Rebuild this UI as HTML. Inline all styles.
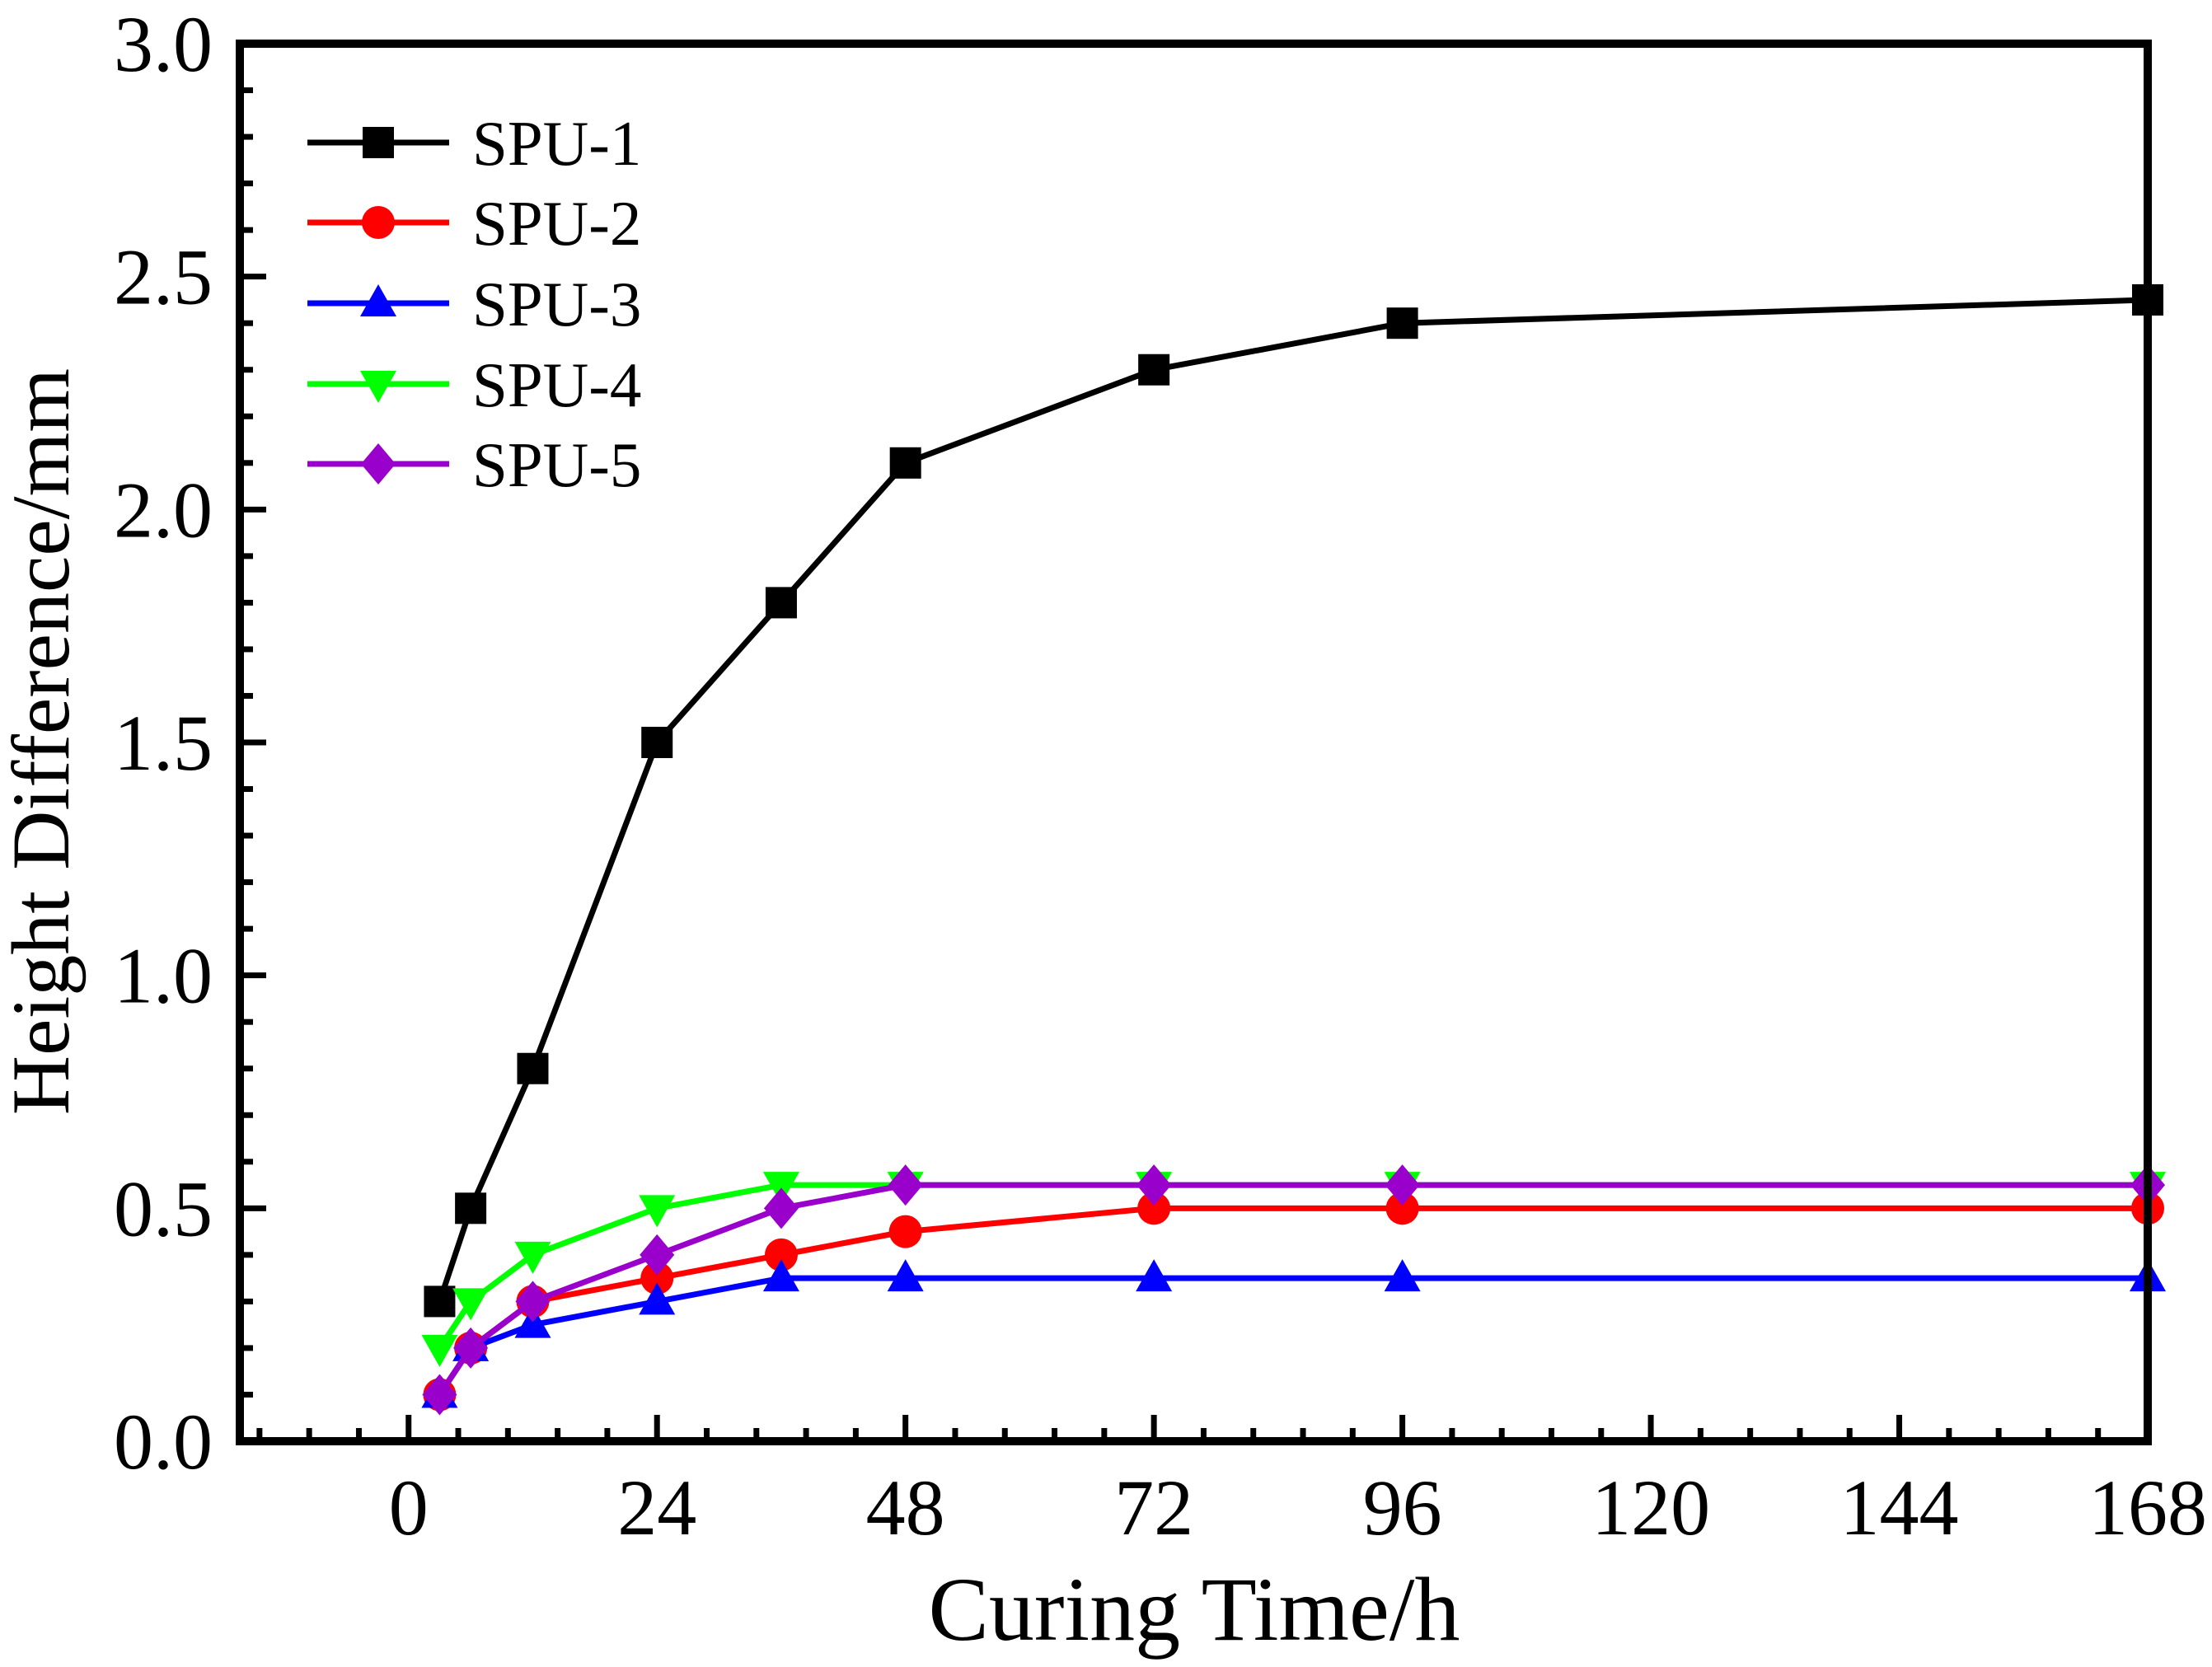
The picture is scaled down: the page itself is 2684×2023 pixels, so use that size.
<!DOCTYPE html>
<html><head><meta charset="utf-8">
<style>
html,body{margin:0;padding:0;background:#fff;}
svg{display:block;}
text{font-family:"Liberation Serif",serif;fill:#000;}
</style></head>
<body>
<svg id="chart" width="2684" height="2023" viewBox="0 0 2684 2023" xmlns="http://www.w3.org/2000/svg">
<g id="ticks"></g>
<g id="series"></g>
<rect x="291" y="53" width="2315" height="1696" fill="none" stroke="#000" stroke-width="10"/>
<text x="1449" y="1990" font-size="110" text-anchor="middle">Curing Time/h</text>
<text transform="translate(83,900) rotate(-90)" font-size="100" text-anchor="middle">Height Difference/mm</text>
<g id="legend"></g>
</svg>
<script>
const times = [3, 6, 12, 24, 36, 48, 72, 96, 168];
const spu1 = [0.3, 0.5, 0.8, 1.5, 1.8, 2.1, 2.3, 2.4, 2.45];
const spu2 = [0.1, 0.2, 0.3, 0.35, 0.4, 0.45, 0.5, 0.5, 0.5];
const spu3 = [0.1, 0.2, 0.25, 0.3, 0.35, 0.35, 0.35, 0.35, 0.35];
const spu4 = [0.2, 0.3, 0.4, 0.5, 0.55, 0.55, 0.55, 0.55, 0.55];
const spu5 = [0.1, 0.2, 0.3, 0.4, 0.5, 0.55, 0.55, 0.55, 0.55];
const seriesNames = ["SPU-1", "SPU-2", "SPU-3", "SPU-4", "SPU-5"];
const xTickLabels = [0, 24, 48, 72, 96, 120, 144, 168];
const yTickLabels = ["0.0", "0.5", "1.0", "1.5", "2.0", "2.5", "3.0"];

const NS = "http://www.w3.org/2000/svg";
const X0 = 291, X1 = 2606, Y0 = 1749, Y1 = 53;
const XMIN = -16.3, XMAX = 168, YMIN = 0, YMAX = 3;
function sx(v){ return X0 + (v - XMIN) / (XMAX - XMIN) * (X1 - X0); }
function sy(v){ return Y0 - (v - YMIN) / (YMAX - YMIN) * (Y0 - Y1); }
function mk(tag, attrs, parent){ const e = document.createElementNS(NS, tag); for (const k in attrs) e.setAttribute(k, attrs[k]); parent.appendChild(e); return e; }

const ticks = document.getElementById('ticks');
for (let i = -3; i <= 35; i++) {
  const v = i * 4.8;
  if (v < XMIN || v > XMAX + 0.01) continue;
  const major = i % 5 === 0;
  const t = mk('line', {x1: sx(v), x2: sx(v), y1: Y0, y2: Y0 - (major ? 32 : 16), stroke: '#000', 'stroke-width': 7}, ticks);
  
  
}
xTickLabels.forEach(v => {
  const t = mk('text', {x: sx(v), y: 1862, 'font-size': 96, 'text-anchor': 'middle'}, ticks);
  t.textContent = v;
  
  
});
for (let i = 0; i <= 30; i++) {
  const v = i * 0.1;
  const major = i % 5 === 0;
  const t = mk('line', {x1: X0, x2: X0 + (major ? 32 : 16), y1: sy(v), y2: sy(v), stroke: '#000', 'stroke-width': 7}, ticks);
  
  
}
yTickLabels.forEach(s => {
  const t = mk('text', {x: 258, y: sy(parseFloat(s)) + 33, 'font-size': 96, 'text-anchor': 'end'}, ticks);
  t.textContent = s;
  
  
});

const colors = ['#000000', '#ff0000', '#0000ff', '#00ff00', '#9900cc'];
const shapes = ['square', 'circle', 'up', 'down', 'diamond'];
const allData = [spu1, spu2, spu3, spu4, spu5];

function marker(shape, x, y, color, parent){
  let e;
  if (shape === 'square') e = mk('rect', {x: x - 19, y: y - 19, width: 38, height: 38, fill: color}, parent);
  else if (shape === 'circle') e = mk('circle', {cx: x, cy: y, r: 20, fill: color}, parent);
  else if (shape === 'up') e = mk('polygon', {points: `${x},${y-23} ${x+22},${y+16} ${x-22},${y+16}`, fill: color}, parent);
  else if (shape === 'down') e = mk('polygon', {points: `${x},${y+23} ${x+22},${y-16} ${x-22},${y-16}`, fill: color}, parent);
  else e = mk('polygon', {points: `${x},${y-25} ${x+21},${y} ${x},${y+25} ${x-21},${y}`, fill: color}, parent);
  return e;
}

const series = document.getElementById('series');
allData.forEach((vals, si) => {
  const g = mk('g', {}, series);
  
  
  const pts = times.map((t, i) => sx(t) + ',' + sy(vals[i])).join(' ');
  const pl = mk('polyline', {points: pts, fill: 'none', stroke: colors[si], 'stroke-width': 7, 'stroke-linejoin': 'round'}, g);
  
  
  times.forEach((t, i) => {
    const m = marker(shapes[si], sx(t), sy(vals[i]), colors[si], g);
    
    
  });
});

const legend = document.getElementById('legend');
const legY = [173, 270, 368, 466, 563];
seriesNames.forEach((n, si) => {
  const g = mk('g', {}, legend);
  
  
  mk('line', {x1: 373, x2: 545, y1: legY[si], y2: legY[si], stroke: colors[si], 'stroke-width': 7}, g);
  marker(shapes[si], 459, legY[si], colors[si], g);
  const t = mk('text', {x: 573, y: legY[si] + 27, 'font-size': 77}, g);
  t.textContent = n;
  
  
});
</script>
</body></html>
